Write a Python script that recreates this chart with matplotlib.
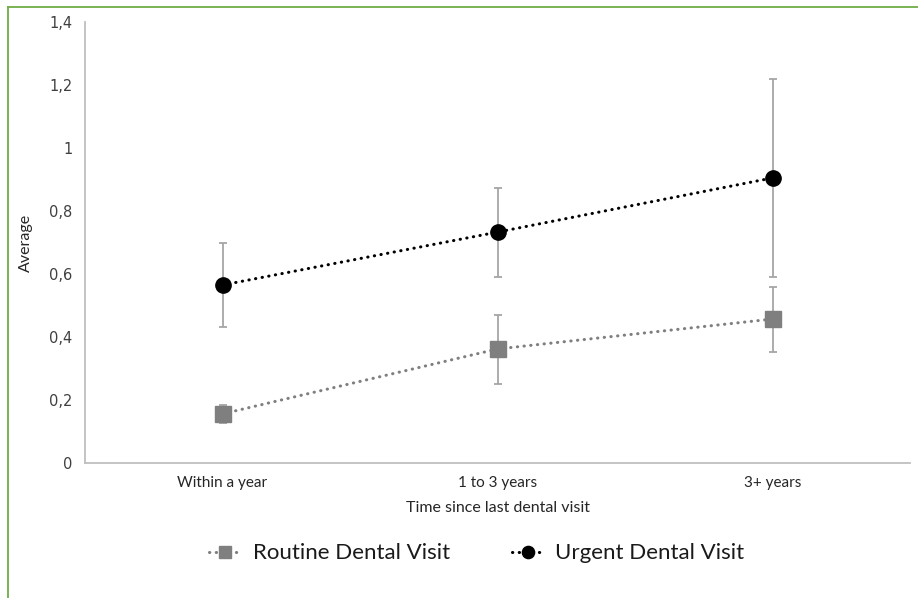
import matplotlib
matplotlib.use("Agg")
import matplotlib.pyplot as plt
from matplotlib.lines import Line2D
import numpy as np

categories = ["Within a year", "1 to 3 years", "3+ years"]
routine = [0.156, 0.362, 0.457]
routine_err_low = [0.029, 0.111, 0.105]
routine_err_high = [0.028, 0.108, 0.102]
urgent = [0.565, 0.733, 0.905]
urgent_err_low = [0.133, 0.143, 0.315]
urgent_err_high = [0.133, 0.140, 0.314]
yticks = [0, 0.2, 0.4, 0.6, 0.8, 1.0, 1.2, 1.4]
ytick_labels = ["0", "0,2", "0,4", "0,6", "0,8", "1", "1,2", "1,4"]

W, H = 918, 598
fig = plt.figure(figsize=(W / 100, H / 100), dpi=100)
ax = fig.add_axes([85 / W, (H - 463) / H, (910 - 85) / W, (463 - 22) / H])

x = np.arange(len(categories))
dot = (0, (0.1, 2.1))
ax.errorbar(x, routine, yerr=[routine_err_low, routine_err_high], fmt="none",
            ecolor="#A6A6A6", elinewidth=1.3, capsize=3, capthick=1.3, zorder=2)
ax.errorbar(x, urgent, yerr=[urgent_err_low, urgent_err_high], fmt="none",
            ecolor="#A6A6A6", elinewidth=1.3, capsize=3, capthick=1.3, zorder=2)
ax.plot(x, routine, color="#7F7F7F", linestyle=dot, linewidth=2.2,
        dash_capstyle="round", marker="s", markersize=11,
        markerfacecolor="#7F7F7F", markeredgecolor="#7F7F7F",
        label="Routine Dental Visit", zorder=3)
ax.plot(x, urgent, color="black", linestyle=dot, linewidth=2.2,
        dash_capstyle="round", marker="o", markersize=11,
        markerfacecolor="black", markeredgecolor="black",
        label="Urgent Dental Visit", zorder=3)

ax.set_xlim(-0.5, 2.5)
ax.set_ylim(0, 1.4)
ax.set_yticks(yticks)
ax.set_yticklabels(ytick_labels, fontsize=10.5, color="#404040", family="DejaVu Sans")
ax.set_xticks(x)
ax.set_xticklabels(categories, fontsize=11, color="#262626", family="Lato")
ax.tick_params(axis="both", length=0)
ax.tick_params(axis="x", pad=9)
ax.tick_params(axis="y", pad=9)
for s in ["top", "right"]:
    ax.spines[s].set_visible(False)
for s in ["left", "bottom"]:
    ax.spines[s].set_color("#BFBFBF")
    ax.spines[s].set_linewidth(1.3)

ax.set_xlabel("Time since last dental visit", fontsize=11.5, family="Lato",
              color="#262626", labelpad=8)
ax.set_ylabel("Average", fontsize=11.5, family="Lato", color="#262626", labelpad=12)

leg = ax.legend(loc="center", bbox_to_anchor=(0.475, -0.205), ncol=2, frameon=False,
                prop={"family": "Lato", "size": 16}, handlelength=1.45,
                columnspacing=2.8, handletextpad=0.5, markerscale=0.8)
for t in leg.get_texts():
    t.set_color("#1A1A1A")

fig.add_artist(Line2D([8 / W, 8 / W], [0, 1 - 7 / H], color="#70AD47", linewidth=1.3))
fig.add_artist(Line2D([8 / W, 1], [1 - 7 / H, 1 - 7 / H], color="#70AD47", linewidth=1.3))

fig.savefig("out.png", dpi=100)
